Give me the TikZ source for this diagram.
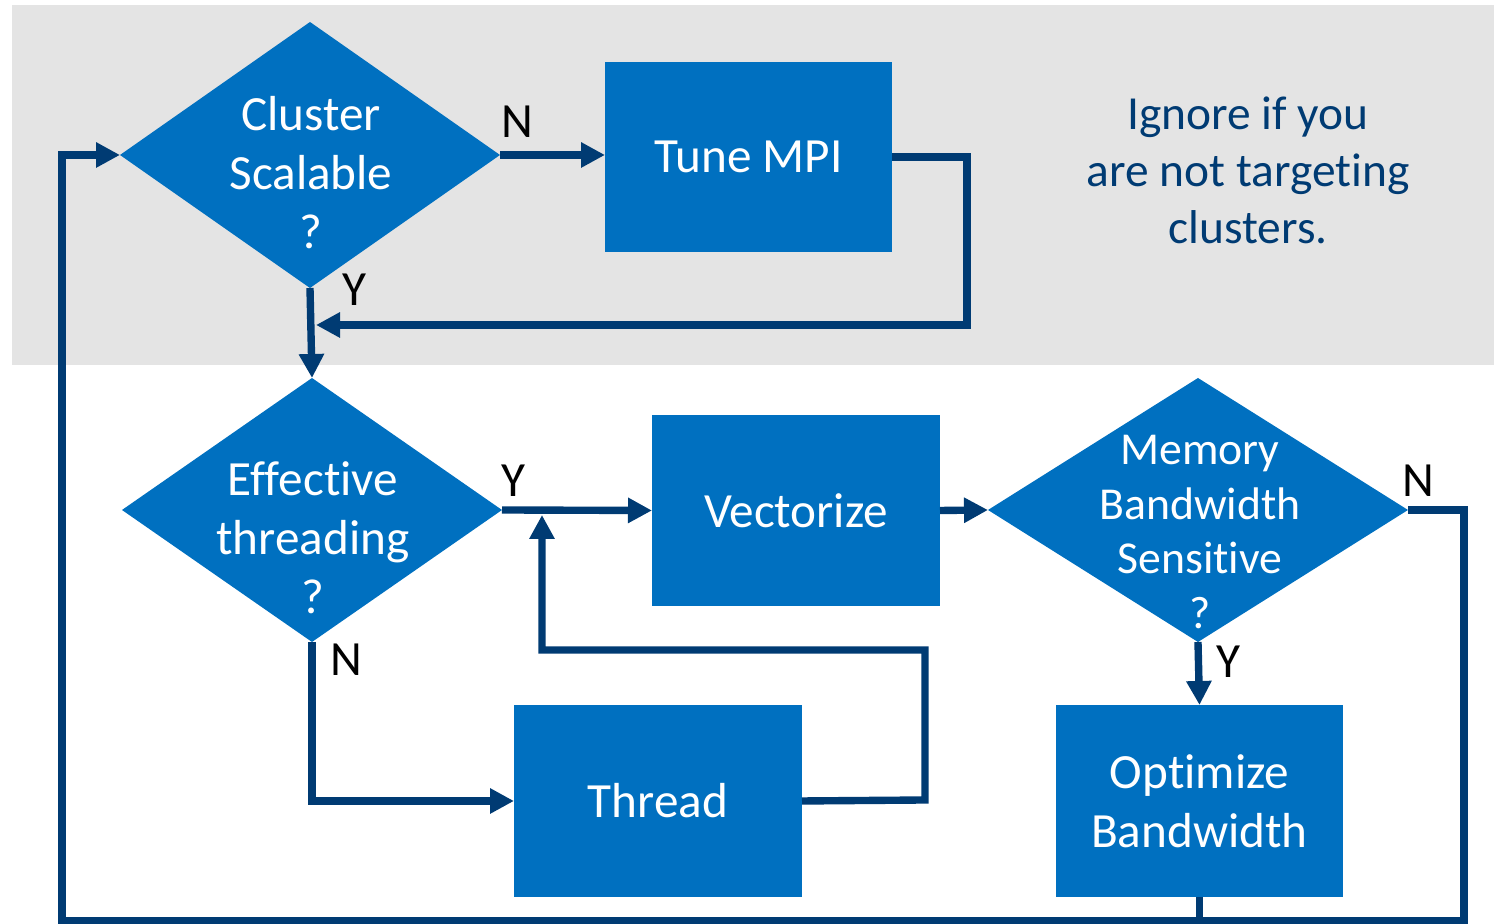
\documentclass[tikz,border=0pt]{standalone}
\usepackage{fontspec}
\setmainfont{Carlito}[Ligatures={NoCommon,NoContextual}]
\usetikzlibrary{arrows.meta,shapes.geometric}
\definecolor{boxblue}{HTML}{0070C0}
\definecolor{linkblue}{HTML}{003B73}
\definecolor{panelgray}{HTML}{E4E4E4}
\newcommand{\nl}{\kern0pt }

\begin{document}
\begin{tikzpicture}[>={Triangle[length=2.4mm,width=2.4mm]},line join=miter,
  link/.style={draw=linkblue,line width=2.1pt},
  stepbox/.style={rectangle,fill=boxblue,text=white,inner sep=0pt,outer sep=0pt,align=center,font=\fontsize{14}{16.8}\selectfont},
  decision/.style={diamond,fill=boxblue,inner sep=0pt,outer sep=0pt},
  dtext/.style={text=white,align=center,font=\fontsize{14}{16.8}\selectfont},
  yn/.style={font=\fontsize{14}{16.8}\selectfont}]
\useasboundingbox (0,0) rectangle (14.94,9.24);
\fill[panelgray] (0.12,5.59) rectangle (14.94,9.19);
% decisions
\node[decision,minimum width=3.8cm,minimum height=2.66cm] (d1) at (3.10,7.69) {};
\node[dtext] (d1txt) at (3.11,7.51) {Cluster\\Scalable\\?};
\node[decision,minimum width=3.8cm,minimum height=2.64cm] (d2) at (3.12,4.14) {};
\node[dtext] (d2txt) at (3.13,3.86) {Effective\\threading\\?};
\node[decision,minimum width=4.2cm,minimum height=2.64cm] (d3) at (11.98,4.14) {};
\node[dtext,font=\fontsize{13}{15.6}\selectfont] (d3txt) at (12.00,3.92) {Memory\\Bandwidth\\Sensitive\\?};
% boxes
\node[stepbox,minimum width=2.87cm,minimum height=1.90cm] (mpi) at (7.485,7.67) {Tune MPI};
\node[stepbox,minimum width=2.88cm,minimum height=1.91cm] (vec) at (7.96,4.135) {Vectorize};
\node[stepbox,minimum width=2.88cm,minimum height=1.92cm] (thread) at (6.58,1.23) {Thread};
\node[stepbox,minimum width=2.87cm,minimum height=1.92cm] (opt) at (11.995,1.23) {Opt\nl imize\\Bandwidth};
\node[text=linkblue,align=center,font=\fontsize{13.5}{16.2}\selectfont] (note) at (12.48,7.54) {Ignore if you\\are not target\nl ing\\clusters.};
% free ends
\coordinate (mpiret) at (3.16,5.99);
\coordinate (thrret) at (5.42,4.09);
\coordinate (loopr) at (14.64,0.03);
\coordinate (loopl) at (0.62,0.03);
% connectors
\draw[link,->] (d1.east) -- (d1.east -| mpi.west);
\draw[link,->] (mpi.east) -| (9.67,5.99) -- (mpiret);
\draw[link,->] (d1.south) -- (d2.north);
\draw[link,->] (d2.east) -- (vec.west);
\draw[link,->] (thread.east) -- (9.25,1.24) -- (9.25,2.74) -| (thrret);
\draw[link,->] (d2.south) |- (thread.west);
\draw[link,->] (vec.east) -- (d3.west);
\draw[link,->] (d3.south) -- (opt.north);
\draw[link,->] (d3.east) -| (loopr) -- (loopl) |- (d1.west);
\draw[link] (opt.south) -- (opt.south |- loopl);
% labels
\node[yn] (n1) at (5.17,8.02) {N};
\node[yn] (y1) at (3.54,6.34) {Y};
\node[yn] (y2) at (5.13,4.43) {Y};
\node[yn] (n2) at (3.46,2.64) {N};
\node[yn] (n3) at (14.18,4.43) {N};
\node[yn] (y3) at (12.28,2.62) {Y};
\end{tikzpicture}
\end{document}
